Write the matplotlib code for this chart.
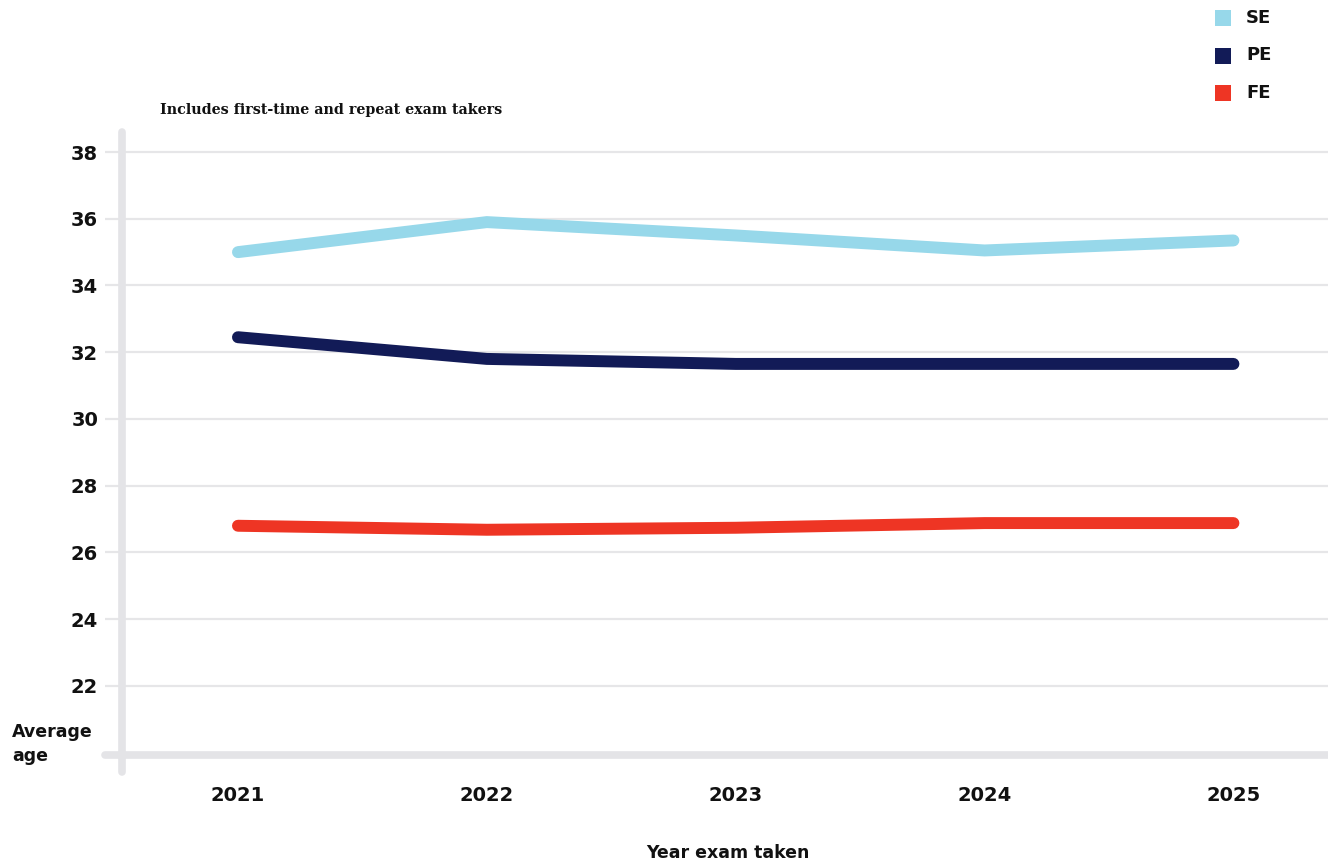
import matplotlib.pyplot as plt
from matplotlib.patches import Rectangle

# Average age of exam takers by year
years = ["2021", "2022", "2023", "2024", "2025"]
se_age = [35.0, 35.9, 35.5, 35.05, 35.35]
pe_age = [32.45, 31.8, 31.65, 31.65, 31.65]
fe_age = [26.8, 26.68, 26.74, 26.88, 26.88]

series = [("SE", se_age, "#97d8ea"), ("PE", pe_age, "#121b57"), ("FE", fe_age, "#ee3524")]
y_ticks = [22, 24, 26, 28, 30, 32, 34, 36, 38]

axis_gray = "#e4e4e7"
grid_gray = "#e6e6e8"
text_color = "#111111"

fig = plt.figure(figsize=(13.28, 8.65), dpi=100)
ax = fig.add_axes([122 / 1328, 1 - 755 / 865, 1 - 122 / 1328, (755 - 132) / 865])

x = list(range(len(years)))
for name, vals, color in series:
    ax.plot(x, vals, color=color, linewidth=8.6, solid_capstyle="round",
            solid_joinstyle="miter", zorder=3)

ax.set_xlim(-0.466, 4.38)
ax.set_ylim(19.93, 38.6)

# Horizontal gridlines and tick stubs
ax.set_yticks(y_ticks)
ax.set_yticklabels([str(v) for v in y_ticks])
ax.grid(axis="y", color=grid_gray, linewidth=1.6, zorder=0)
ax.tick_params(axis="y", length=12.2, width=1.6, color=grid_gray, pad=5,
               labelsize=14, labelcolor=text_color)
ax.set_xticks(x)
ax.set_xticklabels(years)
ax.tick_params(axis="x", length=0, pad=22, labelsize=14, labelcolor=text_color)
for lab in ax.get_xticklabels() + ax.get_yticklabels():
    lab.set_fontweight("bold")
    lab.set_fontfamily("DejaVu Sans")

for s in ax.spines.values():
    s.set_visible(False)

# Thick rounded axis lines
ax.plot([-0.014, 1.0], [0, 0], transform=ax.transAxes, color=axis_gray,
        linewidth=5.5, solid_capstyle="round", clip_on=False, zorder=2)
ax.plot([0, 0], [-0.027, 1.0], transform=ax.transAxes, color=axis_gray,
        linewidth=5.5, solid_capstyle="round", clip_on=False, zorder=2)

# Subtitle and axis titles
fig.text(160 / 1328, 1 - 110 / 865, "Includes first-time and repeat exam takers",
         family="DejaVu Serif", fontsize=10.3, fontweight="bold", color=text_color,
         va="center", ha="left")
fig.text(12 / 1328, 1 - 744 / 865, "Average\nage", fontsize=12.5, fontweight="bold",
         color=text_color, va="center", ha="left", linespacing=1.45)
fig.text(728 / 1328, 1 - 853 / 865, "Year exam taken", fontsize=12.5, fontweight="bold",
         color=text_color, va="center", ha="center")

# Legend with square swatches
for i, (name, vals, color) in enumerate(series):
    yc = 1 - (18 + 37.5 * i) / 865
    fig.patches.append(Rectangle((1215 / 1328, yc - 8 / 865), 16 / 1328, 16 / 865,
                                 transform=fig.transFigure, facecolor=color,
                                 edgecolor="none"))
    fig.text(1246 / 1328, yc, name, fontsize=13, fontweight="bold",
             color=text_color, va="center", ha="left")

fig.savefig("out.png", dpi=100, facecolor="white")
